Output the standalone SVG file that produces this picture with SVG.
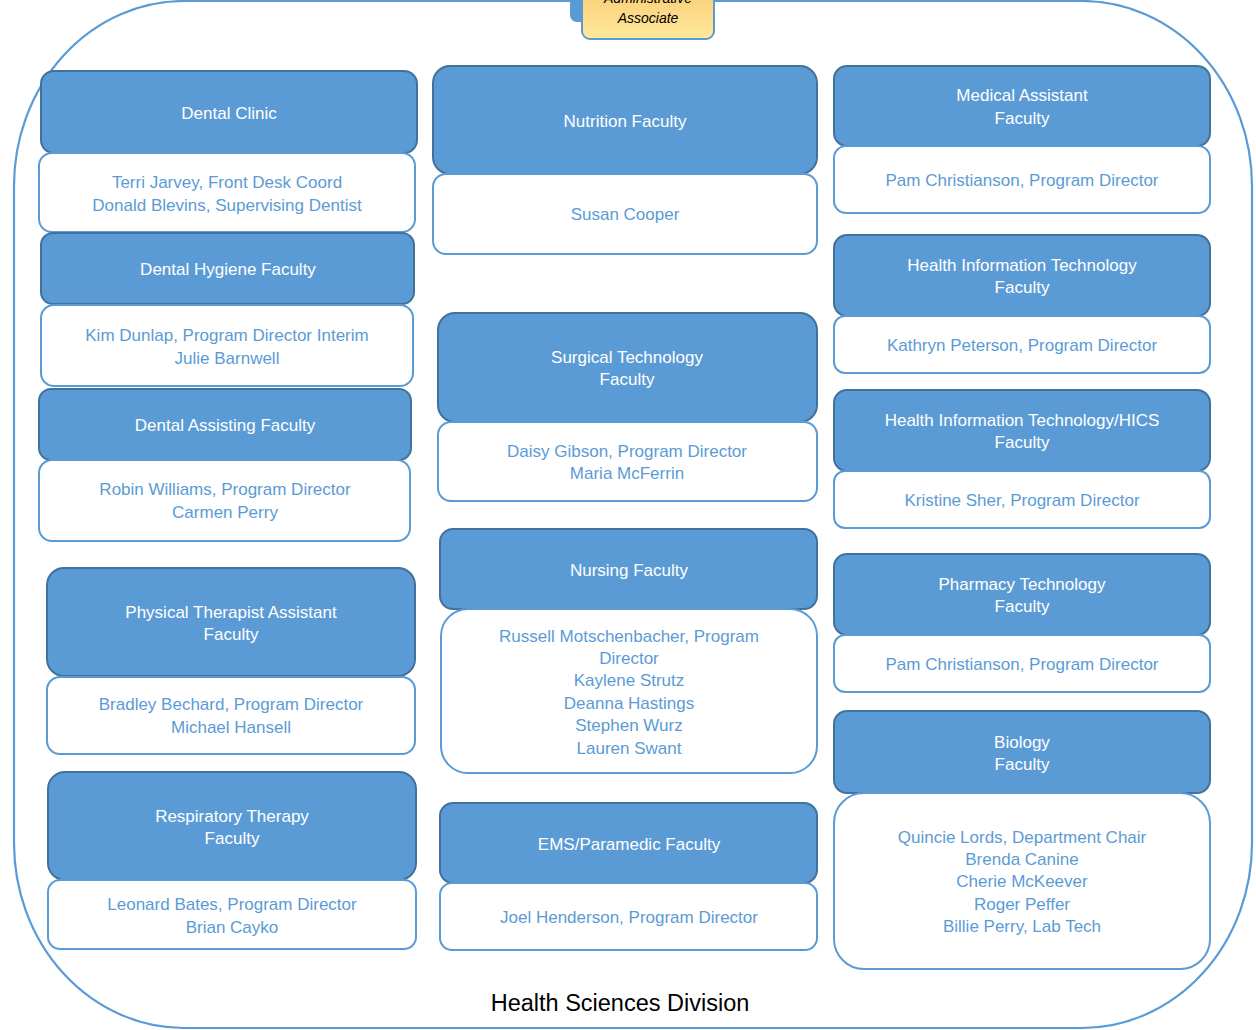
<svg xmlns="http://www.w3.org/2000/svg" width="1256" height="1030" viewBox="0 0 1256 1030">
<defs>
<linearGradient id="yel" x1="0" y1="0" x2="0" y2="1">
<stop offset="0" stop-color="#F7C26B"/>
<stop offset="1" stop-color="#FFE89A"/>
</linearGradient>
</defs>
<style>
.frame{fill:none;stroke:#5B9BD5;stroke-width:2.2}
.hd{fill:#5B9BD5;stroke:#41719C;stroke-width:2}
.bd{fill:#FFFFFF;stroke:#5B9BD5;stroke-width:2}
.ht{font-family:"Liberation Sans",Arial,sans-serif;font-size:17px;fill:#FFFFFF;text-anchor:middle}
.bt{font-family:"Liberation Sans",Arial,sans-serif;font-size:17px;fill:#5B9BD5;text-anchor:middle}
.aa{font-family:"Liberation Sans",Arial,sans-serif;font-size:14px;font-style:italic;fill:#000000;text-anchor:middle}
.title{font-family:"Liberation Sans",Arial,sans-serif;font-size:23.5px;fill:#000000;text-anchor:middle}
</style>
<g id="frame">
<rect class="frame" x="14" y="1" width="1238" height="1027" rx="170" ry="185"/>
<text class="title" x="620" y="1011">Health Sciences Division</text>
</g>
<g id="admin-associate">
<rect x="570" y="-30" width="130" height="52" rx="7" fill="#5B9BD5"/>
<rect x="582" y="-30" width="132" height="69" rx="8" fill="url(#yel)" stroke="#5B9BD5" stroke-width="2"/>
<text class="aa" x="648" y="3">Administrative</text>
<text class="aa" x="648" y="23">Associate</text>
</g>
<g id="dental-clinic">
<rect class="hd" x="41" y="71" width="376" height="82" rx="13"/>
<rect class="bd" x="39" y="153" width="376" height="79" rx="13"/>
<text class="ht" x="229" y="119">Dental Clinic</text>
<text class="bt" x="227" y="188">Terri Jarvey, Front Desk Coord</text>
<text class="bt" x="227" y="211">Donald Blevins, Supervising Dentist</text>
</g>
<g id="dental-hygiene">
<rect class="hd" x="41" y="233" width="373" height="71" rx="12"/>
<rect class="bd" x="41" y="305" width="372" height="81" rx="13"/>
<text class="ht" x="228" y="275">Dental Hygiene Faculty</text>
<text class="bt" x="227" y="341">Kim Dunlap, Program Director Interim</text>
<text class="bt" x="227" y="364">Julie Barnwell</text>
</g>
<g id="dental-assisting">
<rect class="hd" x="39" y="389" width="372" height="71" rx="12"/>
<rect class="bd" x="39" y="460" width="371" height="81" rx="13"/>
<text class="ht" x="225" y="431">Dental  Assisting Faculty</text>
<text class="bt" x="225" y="495">Robin Williams, Program Director</text>
<text class="bt" x="225" y="518">Carmen Perry</text>
</g>
<g id="pta">
<rect class="hd" x="47" y="568" width="368" height="108" rx="17"/>
<rect class="bd" x="47" y="677" width="368" height="77" rx="13"/>
<text class="ht" x="231" y="618">Physical Therapist Assistant</text>
<text class="ht" x="231" y="640">Faculty</text>
<text class="bt" x="231" y="710">Bradley Bechard, Program Director</text>
<text class="bt" x="231" y="733">Michael Hansell</text>
</g>
<g id="respiratory">
<rect class="hd" x="48" y="772" width="368" height="108" rx="17"/>
<rect class="bd" x="48" y="880" width="368" height="69" rx="12"/>
<text class="ht" x="232" y="822">Respiratory Therapy</text>
<text class="ht" x="232" y="844">Faculty</text>
<text class="bt" x="232" y="910">Leonard Bates, Program Director</text>
<text class="bt" x="232" y="933">Brian Cayko</text>
</g>
<g id="nutrition">
<rect class="hd" x="433" y="66" width="384" height="108" rx="17"/>
<rect class="bd" x="433" y="174" width="384" height="80" rx="13"/>
<text class="ht" x="625" y="127">Nutrition Faculty</text>
<text class="bt" x="625" y="220">Susan Cooper</text>
</g>
<g id="surgical">
<rect class="hd" x="438" y="313" width="379" height="109" rx="17"/>
<rect class="bd" x="438" y="422" width="379" height="79" rx="13"/>
<text class="ht" x="627" y="363">Surgical Technology</text>
<text class="ht" x="627" y="385">Faculty</text>
<text class="bt" x="627" y="457">Daisy Gibson, Program Director</text>
<text class="bt" x="627" y="479">Maria McFerrin</text>
</g>
<g id="nursing">
<rect class="hd" x="440" y="529" width="377" height="80" rx="13"/>
<rect class="bd" x="441" y="609" width="376" height="164" rx="27"/>
<text class="ht" x="629" y="576">Nursing Faculty</text>
<text class="bt" x="629" y="642">Russell Motschenbacher, Program</text>
<text class="bt" x="629" y="664">Director</text>
<text class="bt" x="629" y="686">Kaylene Strutz</text>
<text class="bt" x="629" y="709">Deanna Hastings</text>
<text class="bt" x="629" y="731">Stephen Wurz</text>
<text class="bt" x="629" y="754">Lauren Swant</text>
</g>
<g id="ems">
<rect class="hd" x="440" y="803" width="377" height="80" rx="13"/>
<rect class="bd" x="440" y="883" width="377" height="67" rx="12"/>
<text class="ht" x="629" y="850">EMS/Paramedic Faculty</text>
<text class="bt" x="629" y="923">Joel Henderson, Program Director</text>
</g>
<g id="medical-assistant">
<rect class="hd" x="834" y="66" width="376" height="80" rx="13"/>
<rect class="bd" x="834" y="146" width="376" height="67" rx="12"/>
<text class="ht" x="1022" y="101">Medical Assistant</text>
<text class="ht" x="1022" y="124">Faculty</text>
<text class="bt" x="1022" y="186">Pam Christianson, Program Director</text>
</g>
<g id="hit">
<rect class="hd" x="834" y="235" width="376" height="81" rx="13"/>
<rect class="bd" x="834" y="316" width="376" height="57" rx="11"/>
<text class="ht" x="1022" y="271">Health Information Technology</text>
<text class="ht" x="1022" y="293">Faculty</text>
<text class="bt" x="1022" y="351">Kathryn Peterson, Program Director</text>
</g>
<g id="hit-hics">
<rect class="hd" x="834" y="390" width="376" height="81" rx="13"/>
<rect class="bd" x="834" y="471" width="376" height="57" rx="11"/>
<text class="ht" x="1022" y="426">Health Information Technology/HICS</text>
<text class="ht" x="1022" y="448">Faculty</text>
<text class="bt" x="1022" y="506">Kristine Sher, Program Director</text>
</g>
<g id="pharmacy">
<rect class="hd" x="834" y="554" width="376" height="81" rx="13"/>
<rect class="bd" x="834" y="635" width="376" height="57" rx="11"/>
<text class="ht" x="1022" y="590">Pharmacy Technology</text>
<text class="ht" x="1022" y="612">Faculty</text>
<text class="bt" x="1022" y="670">Pam Christianson, Program Director</text>
</g>
<g id="biology">
<rect class="hd" x="834" y="711" width="376" height="82" rx="13"/>
<rect class="bd" x="834" y="793" width="376" height="176" rx="30"/>
<text class="ht" x="1022" y="748">Biology</text>
<text class="ht" x="1022" y="770">Faculty</text>
<text class="bt" x="1022" y="843">Quincie Lords, Department Chair</text>
<text class="bt" x="1022" y="865">Brenda Canine</text>
<text class="bt" x="1022" y="887">Cherie McKeever</text>
<text class="bt" x="1022" y="910">Roger Peffer</text>
<text class="bt" x="1022" y="932">Billie Perry, Lab Tech</text>
</g>
<g id="connectors"></g>
</svg>
